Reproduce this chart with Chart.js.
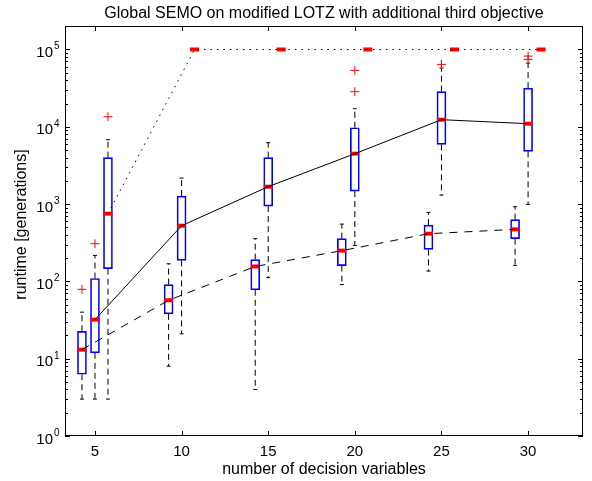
<!DOCTYPE html>
<html>
<head>
<meta charset="utf-8">
<script src="https://cdn.jsdelivr.net/npm/chart.js@4.4.1/dist/chart.umd.min.js"></script>
<style>
  html, body { margin: 0; padding: 0; background: #fff; }
  #wrap { width: 592px; height: 481px; position: relative; }
</style>
</head>
<body>
<div id="wrap"><canvas id="boxChart"></canvas></div>
<script>
// x categories: number of decision variables
const nVars = [5, 10, 15, 20, 25, 30];
// y tick labels 10^0 .. 10^5
const yTickExps = [0, 1, 2, 3, 4, 5];

// left boxes (dashed median line)
const lowA  = [3.0, 8.0, 4.0, 91, 136, 161];
const q1A   = [6.3, 38, 78, 160, 259, 357];
const medA  = [13.1, 57, 156, 250, 414, 471];
const q3A   = [22.6, 91, 191, 357, 535, 629];
const highA = [40, 169, 357, 551, 781, 925];
const outA  = [[79], [], [], [], [], []];

// middle boxes (solid median line)
const lowB  = [3.0, 21, 112, 292, 1307, 991];
const q1B   = [11.9, 187, 942, 1473, 5920, 4808];
const medB  = [32, 525, 1680, 4487, 12360, 10970];
const q3B   = [109, 1270, 3985, 9730, 28450, 31700];
const highB = [217, 2170, 6230, 17150, 57450, 66700];
const outB  = [[307], [], [], [28450, 53700], [64200], [74500, 82200]];

// right boxes (dotted median line), capped at 10^5 generations
const lowC  = [3.0, 100000, 100000, 100000, 100000, 100000];
const q1C   = [146, 100000, 100000, 100000, 100000, 100000];
const medC  = [751, 100000, 100000, 100000, 100000, 100000];
const q3C   = [3985, 100000, 100000, 100000, 100000, 100000];
const highC = [6808, 100000, 100000, 100000, 100000, 100000];
const outC  = [[13500], [], [], [], [], []];

const FONT = '"Liberation Sans", Arial, Helvetica, sans-serif';

// builds the datasets for one group of boxes
function boxGroup(off, low, q1, med, q3, high, outl, dash) {
    const pos = nVars.map(n => n + off);
    const whisk = [];
    const caps = [];
    const outs = [];
    pos.forEach((x, i) => {
        whisk.push({x: x, y: q3[i]}, {x: x, y: high[i]}, {x: x, y: null});
        whisk.push({x: x, y: q1[i]}, {x: x, y: low[i]}, {x: x, y: null});
        caps.push({x: x, y: high[i]}, {x: x, y: low[i]});
        outl[i].forEach(v => outs.push({x: x, y: v}));
    });
    return [
        {
            type: 'line',
            data: pos.map((x, i) => ({x: x, y: med[i]})),
            borderColor: '#000',
            borderWidth: 1,
            borderDash: dash,
            pointRadius: 0,
            tension: 0,
            order: 0
        },
        {
            type: 'scatter',
            data: pos.map((x, i) => ({x: x, y: med[i]})),
            pointStyle: 'line',
            pointRadius: 4.5,
            borderWidth: 4,
            borderColor: '#ff0000',
            order: 1
        },
        {
            type: 'scatter',
            data: outs,
            pointStyle: 'cross',
            pointRadius: 4.5,
            borderWidth: 1,
            borderColor: '#ff0000',
            order: 1
        },
        {
            type: 'scatter',
            data: caps,
            pointStyle: 'line',
            pointRadius: 2,
            borderWidth: 1,
            borderColor: '#000',
            order: 2
        },
        {
            type: 'bar',
            data: pos.map((x, i) => ({x: x, y: [q1[i], q3[i]]})),
            backgroundColor: 'rgba(255,255,255,0)',
            borderColor: '#0000ff',
            borderWidth: 1,
            borderSkipped: false,
            barThickness: 9,
            grouped: false,
            order: 3
        },
        {
            type: 'line',
            data: whisk,
            borderColor: '#000',
            borderWidth: 1,
            borderDash: [6, 4],
            pointRadius: 0,
            spanGaps: false,
            order: 4
        }
    ];
}

// axes box, inward ticks and all axis text (MATLAB look)
const matlabAxes = {
    id: 'matlabAxes',
    afterDraw(chart) {
        const {ctx, chartArea: a, scales: {x, y}} = chart;
        ctx.save();
        ctx.strokeStyle = '#000';
        ctx.lineWidth = 1;
        ctx.strokeRect(a.left + 0.5, a.top + 0.5, a.right - a.left - 1, a.bottom - a.top - 1);
        ctx.beginPath();
        nVars.forEach(n => {
            const px = Math.round(x.getPixelForValue(n)) + 0.5;
            ctx.moveTo(px, a.bottom); ctx.lineTo(px, a.bottom - 5);
            ctx.moveTo(px, a.top); ctx.lineTo(px, a.top + 5);
        });
        for (let e = 0; e <= 5; e++) {
            for (let m = 1; m <= 9; m++) {
                const v = m * Math.pow(10, e);
                if (v > y.max) break;
                const py = Math.round(y.getPixelForValue(v)) + 0.5;
                const len = m === 1 ? 5 : 3;
                ctx.moveTo(a.left, py); ctx.lineTo(a.left + len, py);
                ctx.moveTo(a.right, py); ctx.lineTo(a.right - len, py);
            }
        }
        ctx.stroke();

        ctx.fillStyle = '#000';
        ctx.textBaseline = 'alphabetic';
        ctx.font = '15px ' + FONT;
        ctx.textAlign = 'center';
        nVars.forEach(n => ctx.fillText(String(n), x.getPixelForValue(n), a.bottom + 19.5));

        yTickExps.forEach(e => {
            const py = y.getPixelForValue(Math.pow(10, e));
            ctx.font = '15px ' + FONT;
            ctx.textAlign = 'right';
            ctx.fillText('10', a.left - 12, py + 7.5);
            ctx.font = '10px ' + FONT;
            ctx.textAlign = 'left';
            ctx.fillText(String(e), a.left - 11, py);
        });

        const cx = (a.left + a.right) / 2;
        ctx.font = '16px ' + FONT;
        ctx.textAlign = 'center';
        ctx.fillText('number of decision variables', cx, a.bottom + 38);
        ctx.fillText('Global SEMO on modified LOTZ with additional third objective', cx, 17.5);

        ctx.translate(26, 224.5);
        ctx.rotate(-Math.PI / 2);
        ctx.fillText('runtime [generations]', 0, 0);
        ctx.restore();
    }
};

function initBoxChart() {
    const el = document.getElementById('boxChart');
    if (!el) return;
    const datasets = [].concat(
        boxGroup(-0.75, lowA, q1A, medA, q3A, highA, outA, [8, 7]),
        boxGroup(0, lowB, q1B, medB, q3B, highB, outB, []),
        boxGroup(0.75, lowC, q1C, medC, q3C, highC, outC, [1.5, 5])
    );
    new Chart(el.getContext('2d'), {
        data: { datasets: datasets },
        options: {
            responsive: true,
            maintainAspectRatio: false,
            animation: false,
            layout: { padding: { left: 65, top: 26, right: 9, bottom: 45 } },
            plugins: {
                legend: { display: false },
                tooltip: { enabled: false }
            },
            scales: {
                x: { type: 'linear', min: 3.27, max: 33.17, offset: false, display: false },
                y: { type: 'logarithmic', min: 1, max: Math.pow(10, 5.304), display: false }
            }
        },
        plugins: [matlabAxes]
    });
}

document.addEventListener('DOMContentLoaded', initBoxChart);
</script>
</body>
</html>
